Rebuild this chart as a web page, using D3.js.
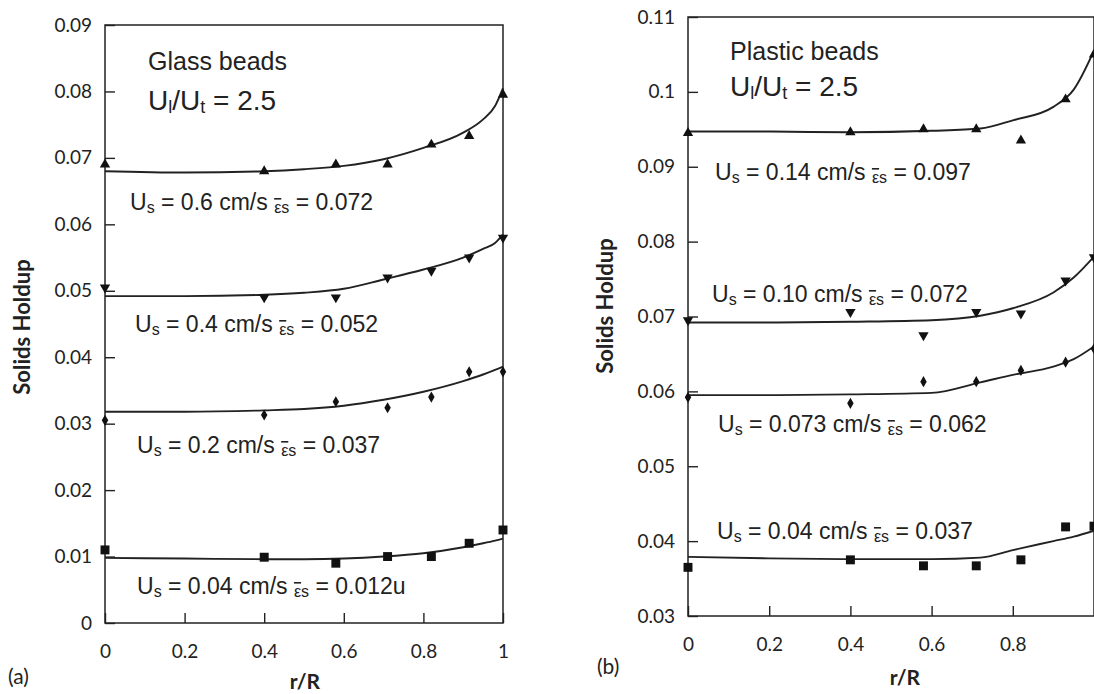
<!DOCTYPE html>
<html>
<head>
<meta charset="utf-8">
<script src="https://cdn.jsdelivr.net/npm/d3@7"></script>
<style>
  body { margin: 0; background: #fff; }
  svg text { fill: #222; }
</style>
</head>
<body>
<div id="chart"></div>
<script>
// radial positions of the measurements
const glassR = [0, 0.4, 0.58, 0.71, 0.82, 0.915, 1];
const plasticR = [0, 0.4, 0.58, 0.71, 0.82, 0.93, 1];

// (a) glass beads, measured holdup
const glass06 = [0.069, 0.068, 0.069, 0.069, 0.072, 0.0733, 0.0795];
const glass04 = [0.0505, 0.049, 0.049, 0.052, 0.053, 0.055, 0.058];
const glass02 = [0.0305, 0.0313, 0.0333, 0.0324, 0.034, 0.0378, 0.0378];
const glass004 = [0.011, 0.0099, 0.009, 0.01, 0.01, 0.012, 0.014];

// (a) model curves
const glassFitR = [0, 0.2, 0.4, 0.5, 0.6, 0.7, 0.8, 0.9, 0.95, 0.98, 1];
const glassFit06 = [0.068, 0.0678, 0.068, 0.0683, 0.0688, 0.0698, 0.0715, 0.0738, 0.0758, 0.0778, 0.0805];
const glassFit04 = [0.0492, 0.0492, 0.0494, 0.0497, 0.0503, 0.0517, 0.0532, 0.055, 0.0563, 0.0572, 0.0585];
const glassFit02 = [0.0318, 0.0318, 0.032, 0.0322, 0.0327, 0.0336, 0.0348, 0.0364, 0.0374, 0.0381, 0.0386];
const glassFit004 = [0.0098, 0.0097, 0.0096, 0.0096, 0.0097, 0.01, 0.0105, 0.0114, 0.012, 0.0124, 0.0127];

// (b) plastic beads, measured holdup
const plastic014 = [0.0945, 0.0946, 0.095, 0.095, 0.0935, 0.099, 0.105];
const plastic010 = [0.0695, 0.0706, 0.0675, 0.0706, 0.0704, 0.0748, 0.0779];
const plastic0073 = [0.0592, 0.0584, 0.0613, 0.0613, 0.0628, 0.0639, 0.0657];
const plastic004 = [0.0365, 0.0375, 0.0367, 0.0367, 0.0375, 0.0419, 0.042];

// (b) model curves
const plasticFitR = [0, 0.2, 0.4, 0.6, 0.72, 0.8, 0.9, 0.95, 1];
const plasticFit014 = [0.0947, 0.0947, 0.0946, 0.0948, 0.0951, 0.0962, 0.098, 0.1003, 0.1055];
const plasticFit010 = [0.0692, 0.0692, 0.0693, 0.0695, 0.0701, 0.0711, 0.0732, 0.0752, 0.078];
const plasticFit0073 = [0.0595, 0.0595, 0.0596, 0.0598, 0.0612, 0.0622, 0.0633, 0.0643, 0.066];
const plasticFit004 = [0.0379, 0.0377, 0.0376, 0.0376, 0.0378, 0.0388, 0.04, 0.0406, 0.0414];

// labels
const glassUs = ['0.6', '0.4', '0.2', '0.04'];
const glassEps = ['0.072', '0.052', '0.037', '0.012u'];
const plasticUs = ['0.14', '0.10', '0.073', '0.04'];
const plasticEps = ['0.097', '0.072', '0.062', '0.037'];

const glassYTicks = [0, 0.01, 0.02, 0.03, 0.04, 0.05, 0.06, 0.07, 0.08, 0.09];
const glassYLabels = ['0', '0.01', '0.02', '0.03', '0.04', '0.05', '0.06', '0.07', '0.08', '0.09'];
const plasticYTicks = [0.03, 0.04, 0.05, 0.06, 0.07, 0.08, 0.09, 0.1, 0.11];
const plasticYLabels = ['0.03', '0.04', '0.05', '0.06', '0.07', '0.08', '0.09', '0.1', '0.11'];
const glassXTicks = [0, 0.2, 0.4, 0.6, 0.8, 1];
const glassXLabels = ['0', '0.2', '0.4', '0.6', '0.8', '1'];
const plasticXTicks = [0, 0.2, 0.4, 0.6, 0.8];
const plasticXLabels = ['0', '0.2', '0.4', '0.6', '0.8'];

const symbols = ['up', 'down', 'diamond', 'square'];

const width = 1094, height = 694;
const ink = '#222';

const svg = d3.select('#chart').append('svg')
  .attr('width', width)
  .attr('height', height)
  .style('font-family', 'Lato, sans-serif');

svg.append('rect').attr('width', width).attr('height', height).attr('fill', '#fff');

const panels = [
  {
    x0: 105, x1: 503, yTop: 25, yBot: 623, domain: [0, 0.09],
    yTicks: glassYTicks, yLabels: glassYLabels, xTicks: glassXTicks, xLabels: glassXLabels,
    r: glassR, series: [glass06, glass04, glass02, glass004],
    fitR: glassFitR, fits: [glassFit06, glassFit04, glassFit02, glassFit004],
    us: glassUs, eps: glassEps,
    labelPos: [[130, 210], [135, 332], [137, 453], [137, 594]],
    title: 'Glass beads', titlePos: [148, 70], ratioPos: [148, 110],
    tag: '(a)', tagPos: [8, 684], rR: [305, 689], yTitle: [22, 327]
  },
  {
    x0: 688, x1: 1094, yTop: 17, yBot: 616, domain: [0.03, 0.11],
    yTicks: plasticYTicks, yLabels: plasticYLabels, xTicks: plasticXTicks, xLabels: plasticXLabels,
    r: plasticR, series: [plastic014, plastic010, plastic0073, plastic004],
    fitR: plasticFitR, fits: [plasticFit014, plasticFit010, plasticFit0073, plasticFit004],
    us: plasticUs, eps: plasticEps,
    labelPos: [[715, 180], [712, 302], [718, 432], [717, 539]],
    title: 'Plastic beads', titlePos: [730, 60], ratioPos: [730, 96],
    tag: '(b)', tagPos: [597, 674], rR: [905, 685], yTitle: [605, 306]
  }
];

const markerPath = (kind) => {
  if (kind === 'square') return d3.symbol(d3.symbolSquare, 80)();
  if (kind === 'diamond') return d3.symbol(d3.symbolDiamond, 36)();
  return d3.symbol(d3.symbolTriangle, 46)();
};

const drawPanel = (p) => {
  const x = d3.scaleLinear().domain([0, 1]).range([p.x0, p.x1]);
  const y = d3.scaleLinear().domain(p.domain).range([p.yBot, p.yTop]);
  const g = svg.append('g');

  // axes with inward ticks
  const yAxis = g.append('g')
    .attr('transform', `translate(${p.x0},0)`)
    .call(d3.axisLeft(y).tickValues(p.yTicks).tickSize(-10).tickPadding(13)
      .tickFormat((d, i) => p.yLabels[i]));
  const xAxis = g.append('g')
    .attr('transform', `translate(0,${p.yBot})`)
    .call(d3.axisBottom(x).tickValues(p.xTicks).tickSize(-10).tickPadding(22)
      .tickFormat((d, i) => p.xLabels[i]));
  [yAxis, xAxis].forEach(a => {
    a.select('.domain').remove();
    a.selectAll('line').attr('stroke', ink).attr('stroke-width', 1.4);
    a.selectAll('text').attr('font-size', 19).attr('font-family', 'Lato, sans-serif').attr('fill', ink);
  });

  // frame
  g.append('rect')
    .attr('x', p.x0).attr('y', p.yTop)
    .attr('width', p.x1 - p.x0).attr('height', p.yBot - p.yTop)
    .attr('fill', 'none').attr('stroke', ink).attr('stroke-width', 1.5);

  // model curves
  const line = d3.line().x(d => x(d[0])).y(d => y(d[1])).curve(d3.curveMonotoneX);
  p.fits.forEach(f => {
    g.append('path')
      .datum(p.fitR.map((r, i) => [r, f[i]]))
      .attr('d', line)
      .attr('fill', 'none').attr('stroke', ink).attr('stroke-width', 1.9);
  });

  // measured points
  p.series.forEach((s, k) => {
    g.append('g').selectAll('path')
      .data(p.r.map((r, i) => [r, s[i]]))
      .join('path')
      .attr('d', markerPath(symbols[k]))
      .attr('transform', d => `translate(${x(d[0])},${y(d[1])})` + (symbols[k] === 'down' ? ' rotate(180)' : ''))
      .attr('fill', '#111');
  });

  // series labels: Us = .. cm/s  eps_s = ..
  p.us.forEach((u, i) => {
    const t = g.append('text')
      .attr('x', p.labelPos[i][0]).attr('y', p.labelPos[i][1])
      .attr('font-family', 'Liberation Sans, Arial, sans-serif')
      .attr('font-size', 23);
    t.append('tspan').text('U');
    t.append('tspan').attr('font-size', 16).attr('dy', 3).text('s');
    t.append('tspan').attr('dy', -3).text(` = ${u} cm/s `);
    t.append('tspan').attr('font-size', 16).attr('dy', 3)
      .style('text-decoration', 'overline').text('\u03b5');
    t.append('tspan').attr('font-size', 16).text('s');
    t.append('tspan').attr('dy', -3).text(` = ${p.eps[i]}`);
  });

  // title and velocity ratio
  g.append('text')
    .attr('x', p.titlePos[0]).attr('y', p.titlePos[1])
    .attr('font-family', 'Liberation Sans, Arial, sans-serif')
    .attr('font-size', 25).text(p.title);
  const ratio = g.append('text')
    .attr('x', p.ratioPos[0]).attr('y', p.ratioPos[1])
    .attr('font-family', 'Liberation Sans, Arial, sans-serif')
    .attr('font-size', 28);
  ratio.append('tspan').text('U');
  ratio.append('tspan').attr('font-size', 18).attr('dy', 3).text('l');
  ratio.append('tspan').attr('dy', -3).text('/U');
  ratio.append('tspan').attr('font-size', 18).attr('dy', 3).text('t');
  ratio.append('tspan').attr('dy', -3).text(' = 2.5');

  // axis titles
  g.append('text')
    .attr('transform', `translate(${p.yTitle[0]},${p.yTitle[1]}) rotate(-90)`)
    .attr('text-anchor', 'middle').attr('dy', '0.35em')
    .attr('font-size', 22).attr('font-weight', 'bold')
    .text('Solids Holdup');
  g.append('text')
    .attr('x', p.rR[0]).attr('y', p.rR[1])
    .attr('text-anchor', 'middle')
    .attr('font-size', 21).attr('font-weight', 'bold')
    .text('r/R');
  g.append('text')
    .attr('x', p.tagPos[0]).attr('y', p.tagPos[1])
    .attr('font-size', 21)
    .text(p.tag);
};

panels.forEach(drawPanel);
</script>
</body>
</html>
